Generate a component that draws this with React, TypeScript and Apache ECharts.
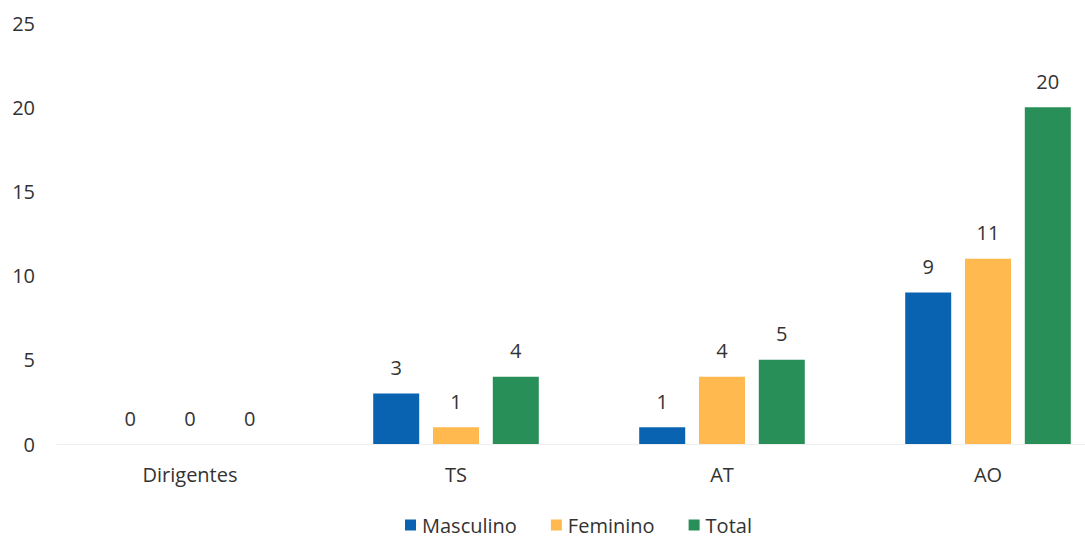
import React, { useEffect, useRef } from "react";
import * as echarts from "echarts";

const categories = ["Dirigentes", "TS", "AT", "AO"];
const masculino = [0, 3, 1, 9];
const feminino = [0, 1, 4, 11];
const total = [0, 4, 5, 20];
const seriesNames = ["Masculino", "Feminino", "Total"];
const colors = ["#0A63B0", "#FFB94F", "#278F57"];

const FONT = "'Open Sans', 'Noto Sans', sans-serif";
const FS = 20;

export default function App() {
  const ref = useRef<HTMLDivElement>(null);
  useEffect(() => {
    if (!ref.current) return;
    const chart = echarts.init(ref.current, null, { renderer: "svg" });
    const data = [masculino, feminino, total];
    chart.setOption({
      animation: false,
      textStyle: { fontFamily: FONT },
      grid: { left: 57, right: -36, top: 23, bottom: 94, outerBoundsMode: "none", containLabel: false },
      legend: {
        top: 510,
        left: 400,
        itemWidth: 11,
        itemHeight: 11,
        itemGap: 34,
        icon: "rect",
        textStyle: { fontSize: FS, color: "#333", fontFamily: FONT, padding: [0, 0, 0, 1] },
        data: seriesNames,
      },
      xAxis: {
        type: "category",
        data: categories,
        axisLine: { show: true, lineStyle: { color: "#eeeeee" } },
        axisTick: { show: false },
        axisLabel: { fontSize: FS, color: "#333", margin: 20, fontFamily: FONT },
      },
      yAxis: {
        type: "value",
        min: 0,
        max: 25,
        interval: 5,
        splitLine: { show: false },
        axisLine: { show: false },
        axisTick: { show: false },
        axisLabel: { fontSize: FS, color: "#333", margin: 22, fontFamily: FONT },
      },
      series: seriesNames.map((name, i) => ({
        name,
        type: "bar",
        data: data[i],
        barWidth: 46,
        barGap: "30%",
        itemStyle: { color: colors[i] },
        label: {
          show: true,
          position: "top",
          distance: 16,
          fontSize: FS,
          color: "#333",
          fontFamily: FONT,
        },
      })),
    });
    return () => chart.dispose();
  }, []);
  return (
    <div
      ref={ref}
      style={{ position: "fixed", left: 0, top: 0, width: 1085, height: 538, background: "#fff" }}
    />
  );
}
